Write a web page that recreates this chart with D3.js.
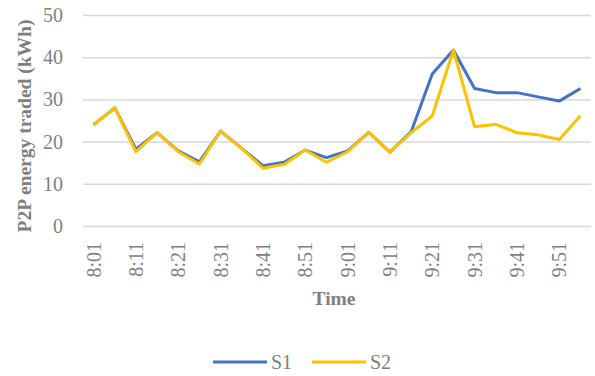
<!DOCTYPE html>
<html>
<head>
<meta charset="utf-8">
<script src="https://cdn.jsdelivr.net/npm/d3@7"></script>
<style>
  html, body { margin: 0; padding: 0; background: #fff; }
  svg text { font-family: "Times New Roman", "Liberation Serif", "DejaVu Serif", serif !important; fill: #7f7f7f; }
</style>
</head>
<body>
<svg id="chart" width="595" height="376"></svg>
<script>
// Time slots (5-minute steps)
const times = ["8:01","8:06","8:11","8:16","8:21","8:26","8:31","8:36","8:41","8:46",
               "8:51","8:56","9:01","9:06","9:11","9:16","9:21","9:26","9:31","9:36",
               "9:41","9:46","9:51","9:56"];
// Only every other slot is labelled on the axis
const timeTicks = ["8:01","8:11","8:21","8:31","8:41","8:51","9:01","9:11","9:21","9:31","9:41","9:51"];
// P2P energy traded per slot (kWh)
const s1 = [24, 28, 18.2, 22.1, 17.8, 15.2, 22.5, 18.4, 14.3, 15.1,
            18, 16.2, 17.8, 22.2, 17.5, 22.3, 36, 41.7, 32.6, 31.6,
            31.6, 30.6, 29.6, 32.6];
const s2 = [24, 28, 17.6, 22.1, 17.6, 14.7, 22.5, 18.4, 13.7, 14.6,
            18, 15.1, 17.6, 22.2, 17.5, 22.1, 26.1, 41.7, 23.5, 24.1,
            22.1, 21.6, 20.5, 26.1];
const yTicks = [0, 10, 20, 30, 40, 50];
const seriesNames = ["S1", "S2"];
const seriesColors = ["#4472C4", "#FFC000"];

const svg = d3.select("#chart");
const plotLeft = 83, plotRight = 591, plotTop = 15, plotBottom = 226;

const x = d3.scalePoint().domain(times).range([plotLeft, plotRight]).padding(0.5);
const y = d3.scaleLinear().domain([0, 50]).range([plotBottom, plotTop]);

// Horizontal gridlines and y tick labels
const yAxis = d3.axisLeft(y).tickValues(yTicks).tickSize(-(plotRight - plotLeft)).tickPadding(20);
const gy = svg.append("g").attr("transform", `translate(${plotLeft},0)`).call(yAxis);
gy.select(".domain").remove();
gy.selectAll(".tick line").attr("stroke", "#d9d9d9").attr("stroke-width", 1.5);
gy.selectAll(".tick text").attr("font-size", 20).attr("fill", "#7f7f7f");

// x axis: rotated time labels
const xAxis = d3.axisBottom(x).tickValues(timeTicks).tickSize(0);
const gx = svg.append("g").attr("transform", `translate(0,${plotBottom})`).call(xAxis);
gx.select(".domain").remove();
gx.selectAll(".tick text")
  .attr("font-size", 20).attr("fill", "#7f7f7f")
  .attr("text-anchor", "end")
  .attr("transform", "rotate(-90)")
  .attr("x", -16).attr("y", 0).attr("dy", "0.33em");

// Series lines
const line = d3.line().x((d, i) => x(times[i])).y(d => y(d));
[s1, s2].forEach((vals, k) => {
  svg.append("path").datum(vals)
    .attr("fill", "none")
    .attr("stroke", seriesColors[k])
    .attr("stroke-width", 3)
    .attr("stroke-linejoin", "round")
    .attr("d", line);
});

// Axis titles
svg.append("text")
  .attr("transform", `translate(31,126) rotate(-90)`)
  .attr("text-anchor", "middle")
  .attr("font-size", 19.5).attr("font-weight", "bold")
  .text("P2P energy traded (kWh)");
svg.append("text")
  .attr("x", 334).attr("y", 305)
  .attr("text-anchor", "middle")
  .attr("font-size", 19.5).attr("font-weight", "bold")
  .text("Time");

// Legend
const legend = svg.append("g");
const legendX = [213, 312];
seriesNames.forEach((name, k) => {
  legend.append("line")
    .attr("x1", legendX[k]).attr("x2", legendX[k] + 54)
    .attr("y1", 362).attr("y2", 362)
    .attr("stroke", seriesColors[k]).attr("stroke-width", 3);
  legend.append("text")
    .attr("x", legendX[k] + 58).attr("y", 369)
    .attr("font-size", 20)
    .text(name);
});
</script>
</body>
</html>
